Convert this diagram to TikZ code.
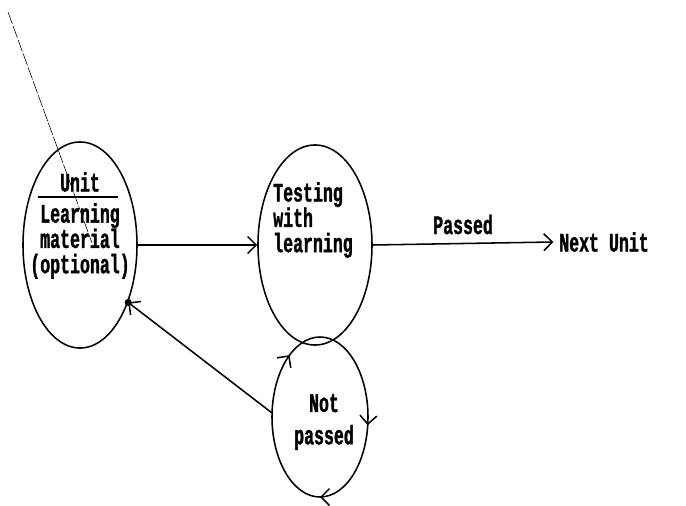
\documentclass[tikz,border=0pt]{standalone}
\usepackage{fontspec}
\setmonofont{Liberation Mono}[FakeStretch=0.62, BoldFeatures={FakeBold=1.2}]
\usepackage{tikz}
\usetikzlibrary{shapes.geometric, arrows.meta, decorations.markings}

\tikzset{
    state/.style={draw, ellipse, line width=1.1pt, inner sep=0pt},
    lbl/.style={font=\ttfamily\bfseries\fontsize{19}{18}\selectfont, inner sep=0pt},
    >={Straight Barb[length=6pt, width=12pt]},
    circulate/.style={decoration={markings,
        mark=at position 0.02 with {\arrow{>}},
        mark=at position 0.25 with {\arrow{>}},
        mark=at position 0.66 with {\arrow{>}}},
        postaction={decorate}}
}

\begin{document}
\begin{tikzpicture}[x=0.025cm, y=-0.025cm]
    \useasboundingbox (0, 0) rectangle (686, 506);

    \node[state, minimum width=2.85cm, minimum height=5.15cm] (unit) at (80, 245) {};
    \node[state, minimum width=2.85cm, minimum height=5cm] (test) at (315, 245) {};
    \node[ellipse, minimum width=2.4cm, minimum height=4cm] (fail) at (320, 417) {};
    \draw[line width=1.1pt, circulate] (fail.center) ellipse [x radius=48, y radius=80];

    \node[lbl] (unittitle) at (80, 182) {Unit};
    \draw[line width=1.3pt] (38, 197) -- (118, 197);
    \node[lbl, align=center] (unitbody) at (80, 241) {Learning\\material\\(optional)};
    \node[lbl, align=left] (testtext) at (313, 220) {Testing\\ with\\learning};
    \node[lbl, align=center] (failtext) at (324, 422) {Not\\[5pt]passed};
    \node[lbl, inner sep=4pt] (next) at (604, 242) {Next Unit};

    \coordinate (tail) at (8, 12);
    \coordinate (tip) at (92, 243);
    \draw[thin, dash pattern=on 9pt off 1.5pt] (tail) -- (tip);

    \draw[->, line width=1.1pt] (unit.east) -- (test.west);
    \draw[->, line width=1.1pt] (test.east) -- (next.west) node[lbl, midway, above=6pt] {Passed};
    \draw[->, line width=1.1pt] (fail.175) -- (unit.-50);
    \fill (unit.-50) circle (2.5pt);
\end{tikzpicture}
\end{document}
